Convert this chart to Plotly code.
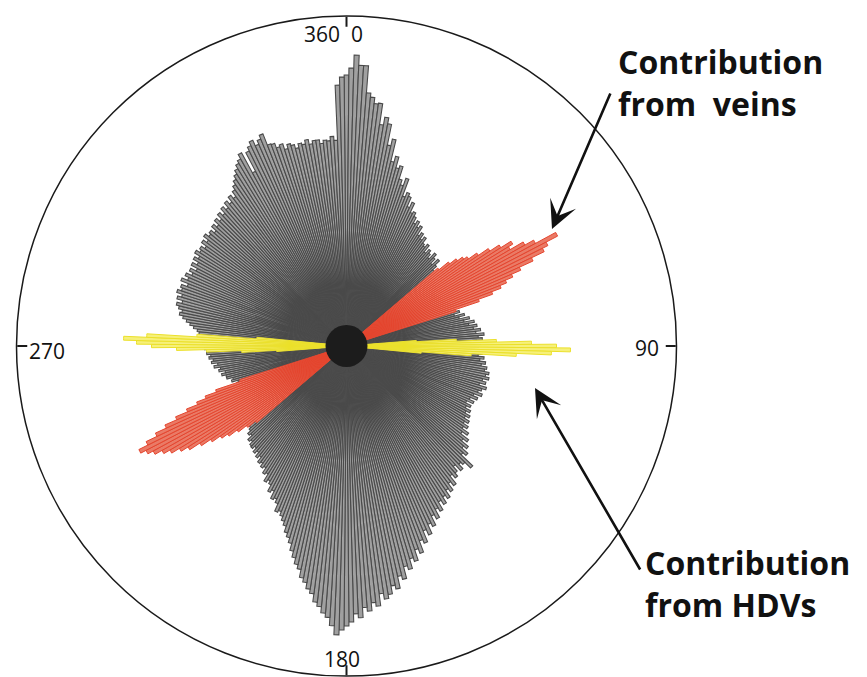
import plotly.graph_objects as go

W, H = 867, 677

# Rose diagram, 1-degree bins, angles clockwise from north
bin_deg = list(range(360))

all_counts = [
    271, 278, 291, 281, 281, 254, 250, 244, 245, 224,   # 0-9
    232, 226, 205, 212, 190, 196, 185, 188, 175, 170,   # 10-19
    178, 160, 165, 162, 152, 158, 148, 150, 146, 140,   # 20-29
    144, 138, 141, 132, 136, 130, 134, 128, 126, 130,   # 30-39
    122, 127, 124, 120, 128, 124, 118, 126, 120, 115,   # 40-49
    110, 108, 112, 105, 110, 104, 108, 100, 106, 102,   # 50-59
    98, 104, 100, 106, 102, 108, 104, 110, 106, 112,    # 60-69
    108, 114, 110, 118, 112, 122, 116, 126, 120, 130,   # 70-79
    124, 132, 128, 135, 130, 138, 132, 136, 130, 134,   # 80-89
    128, 132, 130, 136, 132, 138, 134, 140, 136, 142,   # 90-99
    140, 145, 142, 146, 140, 144, 138, 146, 142, 139,   # 100-109
    144, 136, 141, 134, 139, 132, 138, 134, 140, 136,   # 110-119
    142, 138, 144, 140, 146, 142, 150, 144, 154, 149,   # 120-129
    158, 154, 162, 158, 174, 166, 163, 169, 161, 167,   # 130-139
    171, 166, 176, 171, 179, 175, 183, 179, 186, 181,   # 140-149
    190, 186, 195, 190, 200, 196, 206, 200, 212, 208,   # 150-159
    220, 215, 226, 222, 232, 228, 240, 236, 248, 244,   # 160-169
    252, 256, 250, 262, 258, 266, 262, 272, 268, 276,   # 170-179
    280, 284, 289, 280, 272, 268, 262, 258, 250, 246,   # 180-189
    240, 236, 228, 224, 218, 212, 205, 200, 196, 190,   # 190-199
    186, 182, 178, 180, 172, 168, 170, 162, 165, 158,   # 200-209
    155, 158, 150, 152, 146, 148, 144, 146, 140, 143,   # 210-219
    138, 141, 136, 139, 138, 134, 136, 130, 132, 128,   # 220-229
    126, 120, 118, 114, 116, 110, 112, 108, 110, 104,   # 230-239
    108, 102, 106, 100, 104, 108, 104, 110, 106, 112,   # 240-249
    110, 116, 114, 120, 118, 124, 124, 128, 124, 130,   # 250-259
    128, 134, 130, 136, 134, 138, 136, 140, 138, 142,   # 260-269
    140, 144, 142, 146, 144, 148, 150, 154, 158, 162,   # 270-279
    166, 170, 168, 172, 175, 170, 176, 172, 178, 174,   # 280-289
    176, 170, 178, 172, 176, 170, 174, 168, 175, 170,   # 290-299
    176, 172, 178, 174, 176, 172, 178, 174, 180, 176,   # 300-309
    178, 174, 180, 176, 182, 178, 184, 180, 186, 182,   # 310-319
    188, 184, 190, 186, 192, 196, 200, 204, 208, 212,   # 320-329
    215, 220, 197, 218, 222, 226, 220, 224, 228, 216,   # 330-339
    215, 210, 212, 206, 210, 208, 204, 208, 206, 210,   # 340-349
    205, 208, 208, 204, 207, 206, 210, 206, 261, 269,   # 350-359
]

vein_deg = list(range(50, 73)) + list(range(230, 253))
vein_counts = [
    120, 132, 140, 146, 150, 160, 172, 183, 195, 190, 205, 215,
    238, 225, 219, 205, 190, 180, 172, 165, 155, 140, 115,
    118, 128, 138, 148, 155, 165, 176, 188, 196, 205, 212, 220,
    226, 232, 222, 210, 198, 185, 172, 160, 150, 138, 112,
]

hdv_deg = list(range(86, 96)) + list(range(266, 276))
hdv_counts = [
    70, 110, 150, 185, 210, 224, 205, 170, 125, 75,
    70, 105, 140, 170, 195, 210, 223, 200, 150, 90,
]

dir_ticks = [0, 90, 180, 270]
R_MAX = 330

fig = go.Figure()
fig.add_trace(go.Barpolar(
    r=all_counts, theta=bin_deg, width=1,
    marker=dict(color="#a0a0a0", line=dict(color="#4a4a4a", width=1.1)),
    showlegend=False, hoverinfo="skip",
))
fig.add_trace(go.Barpolar(
    r=vein_counts, theta=vein_deg, width=1,
    marker=dict(color="#ea7a66", line=dict(color="#e4452e", width=1)),
    showlegend=False, hoverinfo="skip",
))
fig.add_trace(go.Barpolar(
    r=hdv_counts, theta=hdv_deg, width=1,
    marker=dict(color="#f6f07a", line=dict(color="#ebe02a", width=1)),
    showlegend=False, hoverinfo="skip",
))

# polar area in pixels
cx, cy, rad = 346.5, 346.0, 330.0
dom_x = [(cx - rad) / W, (cx + rad) / W]
dom_y = [1 - (cy + rad) / H, 1 - (cy - rad) / H]

fig.update_layout(
    width=W, height=H,
    margin=dict(l=0, r=0, t=0, b=0),
    paper_bgcolor="white",
    polar=dict(
        domain=dict(x=dom_x, y=dom_y),
        bgcolor="white",
        barmode="overlay",
        radialaxis=dict(visible=False, range=[0, R_MAX]),
        angularaxis=dict(
            rotation=90, direction="clockwise",
            showgrid=False, showline=True,
            linecolor="#1a1a1a", linewidth=1.5,
            ticks="inside", ticklen=10, tickwidth=1.5, tickcolor="#1a1a1a",
            tickmode="array", tickvals=dir_ticks, showticklabels=False,
        ),
    ),
)

def px(x, y):
    return x / W, 1 - y / H

# dark hub at the centre
hub = 21
fig.add_shape(type="circle", xref="paper", yref="paper",
              x0=(cx - hub) / W, x1=(cx + hub) / W,
              y0=1 - (cy + hub) / H, y1=1 - (cy - hub) / H,
              fillcolor="#1c1c1c", line=dict(width=0), layer="above")

tick_font = dict(family="Open Sans", size=21, color="#111111")
for label, (x, y) in [("360", (322, 34)), ("0", (357, 34)), ("270", (47, 351)),
                      ("90", (647, 348)), ("180", (342, 659))]:
    ax_, ay_ = px(x, y)
    fig.add_annotation(x=ax_, y=ay_, xref="paper", yref="paper", text=label,
                       showarrow=False, font=tick_font,
                       xanchor="center", yanchor="middle")

big_font = dict(family="Open Sans", size=32, color="#111111", weight="bold")
for text, (x, y) in [("Contribution<br>from\u00a0 veins", (616, 38)),
                     ("Contribution<br>from HDVs", (643, 539))]:
    ax_, ay_ = px(x, y)
    fig.add_annotation(x=ax_, y=ay_, xref="paper", yref="paper", text=text,
                       showarrow=False, font=big_font, align="left",
                       xanchor="left", yanchor="top")

# arrows: tip position and tail offset in pixels
for (tx, ty), (tailx, taily) in [((552, 229), (611, 92)), ((535, 388), (641, 571))]:
    ax_, ay_ = px(tx, ty)
    fig.add_annotation(x=ax_, y=ay_, xref="paper", yref="paper", text="",
                       showarrow=True, arrowhead=3, arrowsize=1.8, arrowwidth=2.6,
                       arrowcolor="#111111", ax=tailx - tx, ay=taily - ty)

fig.write_html("out.html")
